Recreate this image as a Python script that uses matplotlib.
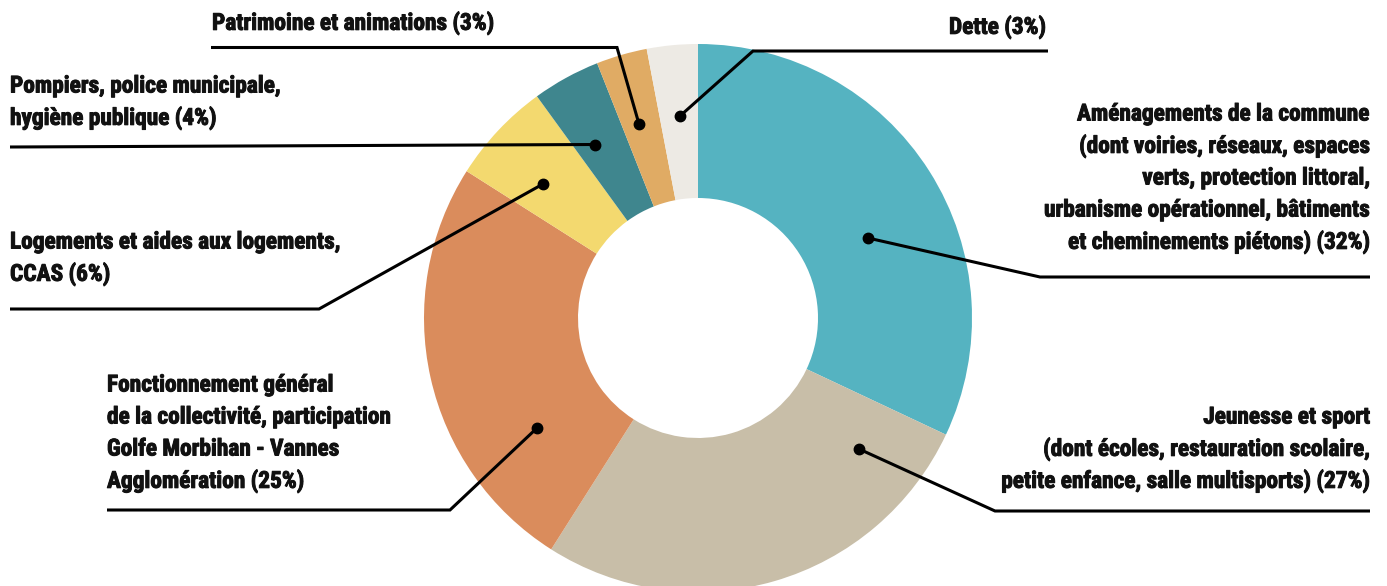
import matplotlib
matplotlib.use("Agg")
import matplotlib.pyplot as plt
import matplotlib.patheffects as pe
from matplotlib import font_manager

# ---- data ----
categories = [
    "Aménagements de la commune\n(dont voiries, réseaux, espaces\nverts, protection littoral,\nurbanisme opérationnel, bâtiments\net cheminements piétons) (32%)",
    "Jeunesse et sport\n(dont écoles, restauration scolaire,\npetite enfance, salle multisports) (27%)",
    "Fonctionnement général\nde la collectivité, participation\nGolfe Morbihan - Vannes\nAgglomération (25%)",
    "Logements et aides aux logements,\nCCAS (6%)",
    "Pompiers, police municipale,\nhygiène publique (4%)",
    "Patrimoine et animations (3%)",
    "Dette (3%)",
]
values = [32, 27, 25, 6, 4, 3, 3]
colors = ["#55b3c1", "#c8bea8", "#da8c5c", "#f3d96f", "#3f868e", "#e0ab64", "#edeae4"]

# ---- layout (pixel coordinates) ----
W, H = 1387, 586
center = (698, 318)
R_out, R_in = 274, 120

# label: (text x, first line center y, ha), leader: list of points starting at dot
label_pos = [
    (1370, 114, "right"),
    (1370, 417, "right"),
    (107, 385, "left"),
    (10, 242, "left"),
    (10, 86, "left"),
    (212, 23, "left"),
    (1046, 27, "right"),
]
leaders = [
    [(868, 238), (1040, 277), (1370, 277)],
    [(859, 449), (995, 511), (1370, 511)],
    [(537, 428), (450, 510), (107, 510)],
    [(543, 184), (319, 309), (10, 309)],
    [(595, 144.5), (10, 147)],
    [(639, 124), (617, 47.5), (211, 47.5)],
    [(680, 116), (753, 51), (1048, 51)],
]

avail = {f.name for f in font_manager.fontManager.ttflist}
family = ["Roboto Condensed", "Liberation Sans Narrow", "DejaVu Sans"]
family = [f for f in family if f in avail] or ["DejaVu Sans"]

fig = plt.figure(figsize=(W / 100, H / 100), dpi=100)
ax = fig.add_axes([0, 0, 1, 1])
ax.pie(values, colors=colors, startangle=-90, counterclock=True,
       radius=R_out, center=center,
       wedgeprops=dict(width=R_out - R_in, linewidth=0))
ax.set_xlim(0, W)
ax.set_ylim(H, 0)
ax.set_aspect("equal")
ax.axis("off")

for pts in leaders:
    xs = [p[0] for p in pts]
    ys = [p[1] for p in pts]
    ax.plot(xs, ys, color="black", lw=2.2, solid_capstyle="butt",
            solid_joinstyle="miter", zorder=3)
    ax.plot(xs[0], ys[0], "o", color="black", ms=7.5, zorder=4)

line_h = 32
bold_fx = [pe.withStroke(linewidth=0.7, foreground="#111111")]
for text, (x, y, ha) in zip(categories, label_pos):
    for i, line in enumerate(text.split("\n")):
        ax.text(x, y + i * line_h, line, ha=ha, va="center",
                fontsize=16.8, fontweight="bold", family=family,
                color="#111111", path_effects=bold_fx)

fig.savefig("out.png", dpi=100, facecolor="white")
